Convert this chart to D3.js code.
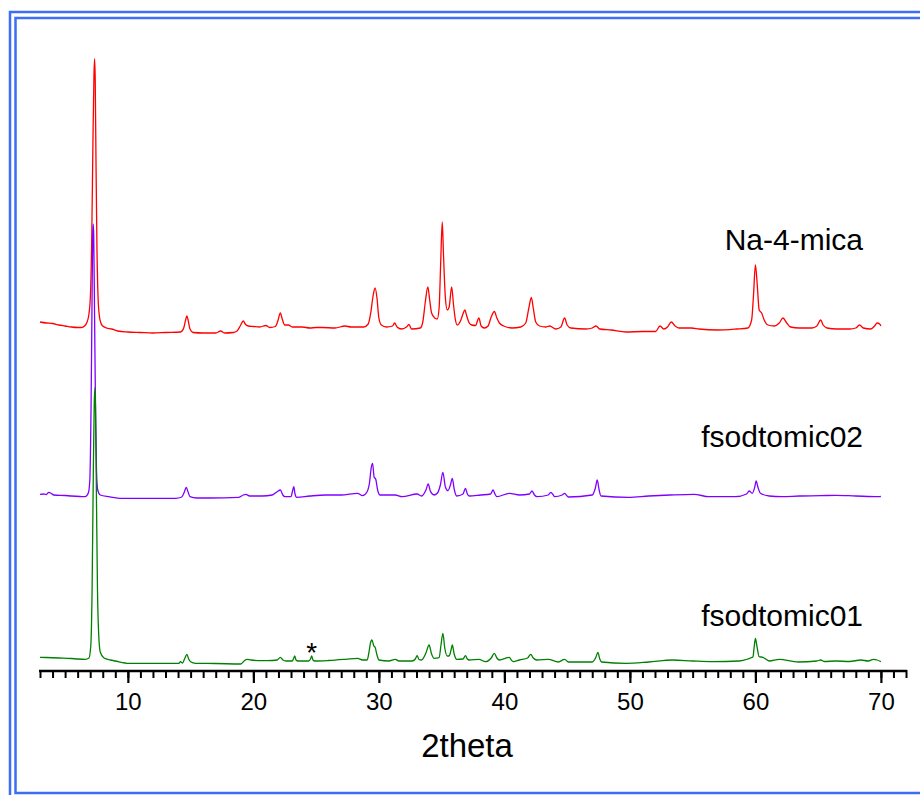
<!DOCTYPE html>
<html>
<head>
<meta charset="utf-8">
<script src="https://cdn.jsdelivr.net/npm/d3@7"></script>
<style>
  body { margin: 0; background: #fff; }
  svg { display: block; }
</style>
</head>
<body>
<svg id="chart"></svg>
<script>
const width = 920;
const height = 795;

// x axis ticks (2theta)
const xMajorTicks = [10, 20, 30, 40, 50, 60, 70];
const xMinorTicks = d3.range(3, 73, 1);

// series names, colours and vertical offsets (a.u.)
const seriesNames = ["Na-4-mica", "fsodtomic02", "fsodtomic01"];
const seriesColors = ["#ff0000", "#8000ff", "#008000"];
const seriesOffsets = [330, 165, 0];

// [2theta, intensity]
const naMica = [
  [3.0, 18], [3.5, 17], [4.0, 16.5], [4.5, 15], [5.0, 14], [5.5, 13], [6.0, 12.5], [6.3, 12.5],
  [6.55, 14], [6.75, 18], [6.9, 26], [7.02, 45], [7.12, 100], [7.22, 200], [7.3, 265], [7.35, 281],
  [7.4, 260], [7.46, 180], [7.54, 90], [7.62, 45], [7.72, 25], [7.85, 17], [8.0, 14], [8.3, 12],
  [8.7, 11], [9.2, 9], [10, 8], [11, 7.5], [12, 7], [13, 7.5], [14.2, 8], [14.45, 12], [14.6, 20],
  [14.7, 24], [14.8, 20], [14.95, 11], [15.2, 7.5], [16, 7], [17.0, 7], [17.4, 9], [17.7, 7],
  [18.4, 7.5], [18.7, 9], [18.95, 14], [19.2, 19], [19.35, 16], [19.6, 14], [20.0, 13.5], [20.5, 13],
  [21.0, 14.5], [21.3, 12.5], [21.75, 13.5], [21.95, 19], [22.15, 27], [22.3, 21], [22.5, 15],
  [22.8, 15], [23.1, 13], [23.9, 13], [24.5, 12], [25.0, 12.5], [25.5, 12.5], [26.5, 12], [27.3, 14],
  [27.8, 13], [28.8, 13], [29.15, 16], [29.35, 27], [29.55, 45], [29.7, 52], [29.85, 42], [30.0, 22],
  [30.2, 15], [30.6, 13], [31.1, 14], [31.25, 17], [31.45, 13], [31.8, 11], [32.2, 13], [32.4, 15.5],
  [32.6, 11], [33.3, 12], [33.5, 18], [33.7, 38], [33.9, 53], [34.05, 40], [34.2, 27], [34.45, 22],
  [34.65, 21], [34.8, 32], [34.92, 75], [35.05, 118], [35.15, 85], [35.3, 42], [35.45, 30],
  [35.6, 33], [35.8, 53], [35.95, 35], [36.1, 20], [36.25, 15], [36.5, 19], [36.7, 26], [36.85, 30],
  [37.0, 24], [37.2, 17], [37.4, 15], [37.7, 14.5], [37.97, 22], [38.15, 14], [38.4, 12], [38.7, 14],
  [38.95, 23], [39.2, 28.5], [39.4, 22], [39.6, 17], [39.96, 14], [40.6, 12], [41.3, 13], [41.7, 17],
  [41.95, 32], [42.15, 42.5], [42.3, 32], [42.5, 18], [42.8, 14], [43.3, 13], [43.6, 14], [44.1, 11],
  [44.5, 13], [44.8, 22], [45.0, 15], [45.3, 12], [46.5, 11], [47.0, 12], [47.3, 14], [47.6, 11],
  [48.5, 10], [49.7, 8], [51, 8.5], [52.05, 8.5], [52.4, 14], [52.7, 11], [53.0, 13], [53.3, 18],
  [53.6, 14], [53.9, 12], [54.9, 12], [55.5, 11], [57.0, 10], [58.5, 11], [59.4, 12], [59.7, 20],
  [59.85, 45], [60.0, 75], [60.15, 55], [60.3, 30], [60.5, 27], [60.7, 20], [61.0, 15], [61.5, 14],
  [61.9, 17], [62.2, 22], [62.5, 17], [62.8, 13], [63.5, 12], [64.5, 12], [64.9, 14], [65.2, 20],
  [65.4, 15], [65.7, 12], [66.5, 11], [67.5, 11], [68.0, 12], [68.3, 15], [68.6, 12], [69.2, 11],
  [69.5, 14], [69.7, 17], [69.9, 16], [70.0, 14]
];

const fsod02 = [
  [3.0, 10.7], [3.3, 11], [3.5, 10.5], [3.7, 12.7], [3.9, 11.5], [4.1, 10], [5.0, 9.5], [5.5, 9],
  [6.2, 8.5], [6.6, 8.3], [6.85, 12], [6.97, 25], [7.07, 100], [7.15, 210], [7.2, 270], [7.24, 281],
  [7.28, 270], [7.34, 200], [7.42, 100], [7.5, 35], [7.6, 15], [7.8, 10], [8.5, 8.3], [9.55, 6.7],
  [11, 6.7], [13.8, 6.7], [14.3, 8], [14.5, 13], [14.65, 17.7], [14.8, 13], [14.95, 8.3], [15.5, 7],
  [16.5, 7], [18.85, 7.7], [19.2, 10], [19.4, 10.7], [19.7, 9], [20.7, 9], [21.5, 10], [21.9, 13.3],
  [22.15, 15], [22.35, 10], [22.5, 8.3], [23.0, 8.3], [23.12, 14], [23.22, 18.3], [23.32, 11],
  [23.45, 7.7], [24.5, 9], [25.75, 10], [27, 10], [28.3, 11.7], [28.7, 9.3], [29.05, 13], [29.25, 22],
  [29.4, 38], [29.5, 41.7], [29.62, 28], [29.75, 25.7], [29.9, 15], [30.1, 10], [31.3, 10],
  [31.85, 8.3], [33.05, 11], [33.4, 9], [33.75, 15], [33.93, 21], [34.1, 14], [34.4, 10], [34.65, 11.7],
  [34.9, 20], [35.1, 32.7], [35.3, 18], [35.5, 14.3], [35.7, 20], [35.85, 26.7], [36.0, 16], [36.2, 9],
  [36.7, 11], [36.9, 16.5], [37.05, 11], [37.2, 9], [38.1, 10], [38.9, 11], [39.1, 15], [39.25, 11],
  [39.4, 8.3], [40.4, 11.7], [41.2, 10], [42.0, 11], [42.2, 14], [42.4, 10], [42.6, 8.3], [43.5, 10],
  [43.7, 12.7], [43.9, 10], [44.0, 8.3], [44.6, 10], [44.8, 11.7], [45.0, 9], [45.1, 8], [47.0, 10],
  [47.25, 17], [47.4, 25], [47.55, 15], [47.7, 9], [49.9, 7.7], [51.5, 9], [53.2, 10], [55.1, 10.7],
  [56.3, 8.3], [58.4, 8.3], [59.3, 11], [59.5, 14], [59.75, 11.7], [59.95, 18], [60.06, 24],
  [60.2, 18], [60.4, 11.7], [61.1, 9], [62.1, 8.3], [63.5, 9], [65.2, 9.3], [66.4, 9.7], [68, 9],
  [69.8, 8.3], [70.0, 8.5]
];

const fsod01 = [
  [3.0, 12.7], [3.5, 12.5], [4.5, 12], [5.5, 11.5], [6.0, 11], [6.6, 10.7], [6.9, 12], [7.05, 25],
  [7.15, 80], [7.25, 200], [7.32, 265], [7.37, 282], [7.42, 265], [7.5, 170], [7.58, 80], [7.68, 35],
  [7.8, 18], [8.1, 12], [8.6, 10], [9.0, 9], [10.1, 6.7], [12, 6.7], [14.06, 6.7], [14.2, 8.3],
  [14.35, 7], [14.55, 12], [14.7, 15.7], [14.85, 11], [15.0, 8.3], [15.4, 6.7], [17, 6.5], [19.0, 6],
  [19.3, 9.5], [19.5, 10.7], [19.8, 10], [20.7, 9.3], [21.5, 9.5], [21.9, 10], [22.15, 12.7],
  [22.35, 10], [22.6, 9], [23.1, 9], [23.22, 12], [23.3, 14], [23.4, 10], [23.55, 9], [24.4, 9],
  [24.55, 11], [24.65, 14], [24.75, 10], [24.9, 9], [26, 9.5], [27.35, 10.7], [28.3, 11.7], [28.7, 10],
  [29.07, 10], [29.2, 17], [29.35, 28], [29.45, 30], [29.6, 24], [29.7, 22.7], [29.85, 15], [30.0, 10],
  [30.8, 9], [31.3, 10.7], [31.6, 9], [32.65, 9], [32.9, 11], [33.05, 14.3], [33.2, 10.5], [33.4, 10],
  [33.75, 17], [34.0, 25], [34.2, 16], [34.4, 11.7], [34.8, 12.3], [34.95, 25], [35.1, 36.7],
  [35.25, 22], [35.45, 14], [35.6, 14], [35.75, 20], [35.85, 25], [36.0, 16], [36.2, 10.7], [36.7, 11],
  [36.9, 14.3], [37.05, 11], [37.2, 10], [37.97, 10.7], [38.5, 8.3], [38.95, 12], [39.2, 16.7],
  [39.4, 12], [39.6, 10], [40.4, 12.7], [40.55, 10], [40.7, 8.3], [41.2, 10], [41.85, 12], [42.1, 15.7],
  [42.3, 12], [42.6, 10], [43.5, 10.7], [44.3, 8], [44.8, 10.7], [45.1, 8], [47.0, 8], [47.3, 13],
  [47.45, 17.7], [47.6, 11], [47.75, 8], [49.7, 6.7], [51.5, 8], [53.4, 10], [55, 9], [56.6, 8.3],
  [58.7, 9], [59.4, 11], [59.6, 12], [59.8, 13], [59.92, 25], [60.0, 31.7], [60.12, 24], [60.3, 13.3],
  [60.6, 12.7], [61.1, 9], [61.9, 10.7], [63.4, 8], [64.9, 9], [65.2, 10], [65.5, 8.5], [66.4, 9],
  [67.5, 8.5], [68.4, 10], [69.0, 9], [69.4, 10.7], [69.7, 10], [70.0, 8.3]
];

const seriesData = [naMica, fsod02, fsod01];

// marked impurity reflection
const starMark = [24.65, 25];

const svg = d3.select("#chart")
  .attr("width", width)
  .attr("height", height);

// double blue frame
svg.append("rect")
  .attr("x", 10).attr("y", 12)
  .attr("width", 930).attr("height", 790)
  .attr("fill", "none")
  .attr("stroke", "#3d6ef5")
  .attr("stroke-width", 2.5);
svg.append("rect")
  .attr("x", 15.5).attr("y", 18)
  .attr("width", 920).attr("height", 775)
  .attr("fill", "none")
  .attr("stroke", "#3d6ef5")
  .attr("stroke-width", 2.5);

const x = d3.scaleLinear()
  .domain([3, 72])
  .range([40, 906]);

const y = d3.scaleLinear()
  .domain([0, 620])
  .range([670, 50]);

const line = d3.line()
  .x(d => x(d[0]))
  .y(d => y(d[1]))
  .curve(d3.curveMonotoneX);

seriesData.forEach((data, i) => {
  svg.append("path")
    .datum(data.map(d => [d[0], d[1] + seriesOffsets[i]]))
    .attr("fill", "none")
    .attr("stroke", seriesColors[i])
    .attr("stroke-width", 1.3)
    .attr("stroke-linejoin", "round")
    .attr("d", line);
});

// series labels
const labelY = [250, 447, 626];
seriesNames.forEach((name, i) => {
  svg.append("text")
    .attr("x", 863)
    .attr("y", labelY[i])
    .attr("text-anchor", "end")
    .attr("font-family", "Liberation Sans, Arial, sans-serif")
    .attr("font-size", 30)
    .attr("fill", "#000")
    .text(name);
});

svg.append("text")
  .attr("x", x(starMark[0]))
  .attr("y", y(starMark[1]) + 17)
  .attr("text-anchor", "middle")
  .attr("font-family", "Liberation Sans, Arial, sans-serif")
  .attr("font-size", 28)
  .text("*");

// x axis
const axisY = 670;
const minorAxis = d3.axisBottom(x)
  .tickValues(xMinorTicks)
  .tickSize(8)
  .tickFormat("");
const majorAxis = d3.axisBottom(x)
  .tickValues(xMajorTicks)
  .tickSize(13)
  .tickPadding(10)
  .tickFormat(d3.format("d"));

const gMinor = svg.append("g")
  .attr("transform", `translate(0,${axisY})`)
  .call(minorAxis);
gMinor.select(".domain").remove();
gMinor.selectAll("line").attr("stroke", "#000").attr("stroke-width", 2);

const gMajor = svg.append("g")
  .attr("transform", `translate(0,${axisY})`)
  .call(majorAxis);
gMajor.select(".domain").remove();
gMajor.selectAll("line").attr("stroke", "#000").attr("stroke-width", 2.2);
gMajor.selectAll("text")
  .attr("font-family", "Liberation Sans, Arial, sans-serif")
  .attr("font-size", 24)
  .attr("fill", "#000");

svg.append("line")
  .attr("x1", x(3) - 1).attr("x2", x(72) + 1)
  .attr("y1", axisY + 1).attr("y2", axisY + 1)
  .attr("stroke", "#000")
  .attr("stroke-width", 2.5);

svg.append("text")
  .attr("x", 467)
  .attr("y", 757)
  .attr("text-anchor", "middle")
  .attr("font-family", "Liberation Sans, Arial, sans-serif")
  .attr("font-size", 33)
  .text("2theta");
</script>
</body>
</html>
